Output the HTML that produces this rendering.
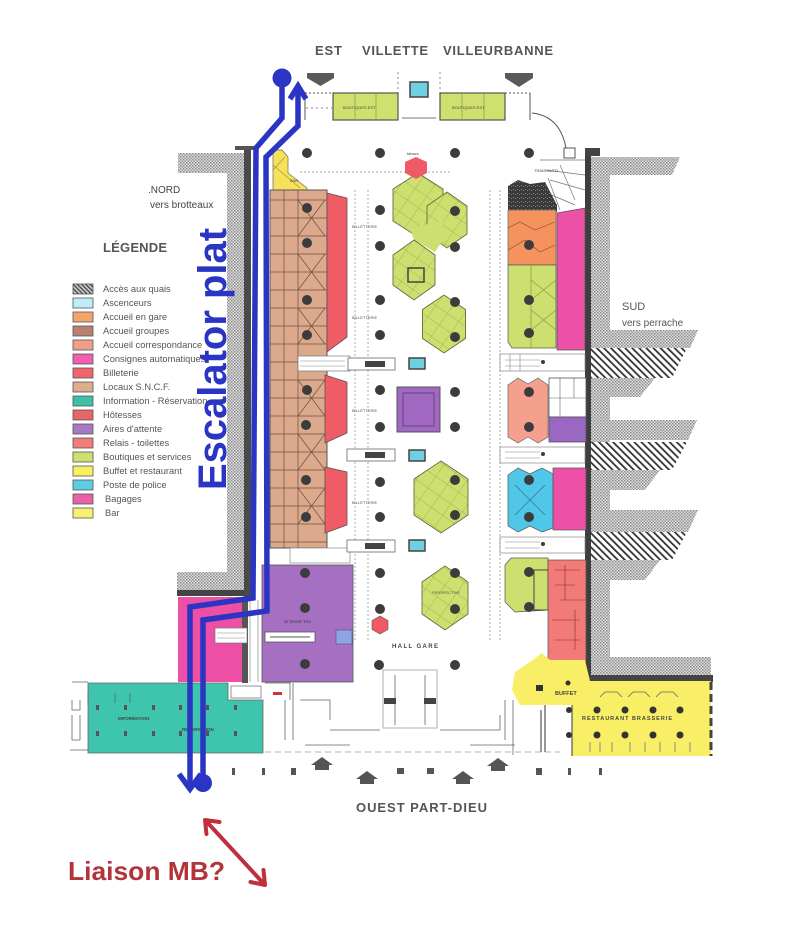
<!DOCTYPE html>
<html><head><meta charset="utf-8">
<style>
html,body{margin:0;padding:0;background:#fff;}
svg{display:block;}
text{font-family:"Liberation Sans",Arial,sans-serif;}
</style></head><body>
<svg width="805" height="948" viewBox="0 0 805 948" xmlns="http://www.w3.org/2000/svg">
<defs>
<pattern id="st" width="3" height="3" patternUnits="userSpaceOnUse"><rect width="3" height="3" fill="#dedede"/><rect width="1.5" height="1.5" fill="#8c8c8c"/><rect x="1.5" y="1.5" width="1.5" height="1.5" fill="#9c9c9c"/></pattern>
<pattern id="ha" width="5" height="5" patternUnits="userSpaceOnUse" patternTransform="rotate(-45)"><rect width="5" height="5" fill="#fff"/><rect width="1.8" height="5" fill="#333"/></pattern>
<pattern id="ha2" width="3" height="3" patternUnits="userSpaceOnUse" patternTransform="rotate(-45)"><rect width="3" height="3" fill="#ccc"/><rect width="1.3" height="3" fill="#444"/></pattern>
<pattern id="gr" width="14" height="14" patternUnits="userSpaceOnUse" patternTransform="rotate(35)"><rect width="14" height="14" fill="#cddf6e"/><path d="M0 0H14M0 0V14" stroke="#97a64a" stroke-width="0.7"/></pattern>
<pattern id="dk" width="4" height="4" patternUnits="userSpaceOnUse"><rect width="4" height="4" fill="#3a3a3a"/><rect x="1" y="1" width="1" height="1" fill="#888"/><rect x="3" y="2" width="1" height="1" fill="#777"/></pattern>
</defs>
<rect width="805" height="948" fill="#fff"/>

<!-- LEFT stipple -->
<g fill="url(#st)">
<rect x="178" y="153" width="68" height="20"/>
<rect x="227" y="173" width="19" height="400"/>
<rect x="177" y="572" width="70" height="19"/>
</g>
<rect x="177" y="590" width="71" height="6" fill="#444"/>
<rect x="244" y="146" width="7" height="451" fill="#4a4a4a"/>
<rect x="235" y="146" width="20" height="4" fill="#555"/>
<rect x="242" y="597" width="6" height="86" fill="#555"/>

<!-- RIGHT stipple / hatch -->
<g fill="url(#st)">
<rect x="591" y="157" width="19" height="518"/>
<polygon points="591,157 680,157 672,175 591,175"/>
<polygon points="591,330 698,330 690,348 591,348"/>
<polygon points="591,378 655,378 640,397 591,397"/>
<polygon points="591,420 697,420 688,440 591,440"/>
<polygon points="591,470 660,470 645,490 591,490"/>
<polygon points="591,510 698,510 688,532 591,532"/>
<polygon points="591,560 660,560 645,580 591,580"/>
<rect x="591" y="657" width="120" height="19"/>
</g>
<g fill="url(#ha)">
<polygon points="591,348 687,348 672,378 591,378"/>
<polygon points="591,442 687,442 672,470 591,470"/>
<polygon points="591,532 687,532 672,560 591,560"/>
</g>
<rect x="585" y="148" width="6" height="534" fill="#3e3e3e"/>
<rect x="585" y="148" width="15" height="8" fill="#444"/>
<rect x="585" y="675" width="128" height="7" fill="#444"/>

<!-- TOP structure -->
<g stroke="#555" stroke-width="1" fill="none">
<path d="M305,93 V120 M530,93 V120"/>
<path d="M305,93 H333 M505,93 H530" stroke-dasharray="2,2"/>
<path d="M398,72 V120 M440,72 V120 M306,108 H332" stroke-dasharray="2,3" stroke="#888"/>
<path d="M532,113 Q560,116 566,148"/>
<rect x="564" y="148" width="11" height="10"/>
<path d="M402,118 H436" stroke="#777"/>
</g>
<rect x="333" y="93" width="65" height="27" fill="#cfe06e" stroke="#555" stroke-width="1.2"/>
<rect x="440" y="93" width="65" height="27" fill="#cfe06e" stroke="#555" stroke-width="1.2"/>
<path d="M355,93V120M376,93V120M462,93V120M484,93V120" stroke="#8a9a48" stroke-width="0.7"/>
<rect x="410" y="82" width="18" height="15" fill="#6fd0e2" stroke="#444" stroke-width="1.5"/>
<text x="343" y="109" font-size="4" fill="#444">BOUTIQUES EST</text>
<text x="452" y="109" font-size="4" fill="#444">BOUTIQUES EST</text>
<!-- top arrows -->
<polygon points="307,73 334,73 334,78 320.5,86 307,78" fill="#5a5a5a"/>
<polygon points="505,73 533,73 533,78 519,87 505,78" fill="#5a5a5a"/>

<!-- right-top stairs area -->
<g stroke="#777" stroke-width="0.7" fill="none">
<path d="M540,160 L585,160 M545,170 L585,175 M550,180 L585,190 M540,190 L575,205 M548,178 L560,210 M560,165 L575,200"/>
</g>
<text x="534" y="172" font-size="4" fill="#444">TRAIS-AUTO</text>

<!-- RIGHT column -->
<polygon points="508,186 518,180 530,184 545,182 557,205 557,212 508,212" fill="url(#dk)"/>
<rect x="508" y="210" width="48" height="55" fill="#f5935e" stroke="#666" stroke-width="0.7"/>
<path d="M508,228 L520,222 L535,230 L555,222 M508,250 L525,240 L540,252 L555,245" stroke="#8a4a30" stroke-width="0.6" fill="none"/>
<polygon points="557,213 585,208 585,350 557,350" fill="#ec50a7" stroke="#555" stroke-width="0.7"/>
<polygon points="508,265 556,265 556,348 512,348 508,342" fill="#cddf6e" stroke="#555" stroke-width="0.7"/>
<path d="M531,265V348 M531,280 L556,300 M556,280 L531,300 M531,310 L556,330 M556,310 L531,330" stroke="#8a9a48" stroke-width="0.7"/>
<rect x="500" y="354" width="85" height="17" fill="#fff" stroke="#888" stroke-width="0.7"/>
<path d="M505,360H540M505,366H540M510,354V371M520,354V371" stroke="#888" stroke-width="0.6"/>
<polygon points="508,385 518,378 528,384 538,378 548,385 548,437 538,443 528,437 518,443 508,437" fill="#f4a08c" stroke="#666" stroke-width="0.7"/>
<rect x="549" y="378" width="37" height="39" fill="#fff" stroke="#555" stroke-width="0.8"/>
<path d="M560,378V417M574,378V398M549,398H586" stroke="#666" stroke-width="0.6"/>
<rect x="549" y="417" width="37" height="25" fill="#9a68c0" stroke="#555" stroke-width="0.8"/>
<rect x="500" y="447" width="85" height="16" fill="#fff" stroke="#888" stroke-width="0.7"/>
<path d="M505,452H540M505,458H540" stroke="#888" stroke-width="0.6"/>
<polygon points="508,475 518,468 530,474 542,468 553,474 553,528 542,532 530,526 518,532 508,526" fill="#50c6e8" stroke="#555" stroke-width="0.7"/>
<path d="M515,485 L545,515 M545,485 L515,515" stroke="#2a6a80" stroke-width="0.6"/>
<rect x="553" y="468" width="33" height="62" fill="#ec50a7" stroke="#555" stroke-width="0.7"/>
<rect x="500" y="537" width="85" height="16" fill="#fff" stroke="#888" stroke-width="0.7"/>
<path d="M505,542H540M505,548H540" stroke="#888" stroke-width="0.6"/>
<polygon points="505,565 511,558 548,558 548,610 515,612 505,602" fill="#cddf6e" stroke="#555" stroke-width="0.7"/>
<rect x="534" y="570" width="14" height="40" fill="none" stroke="#444" stroke-width="1"/>
<rect x="548" y="560" width="38" height="102" fill="#f27a78" stroke="#555" stroke-width="0.7"/>
<path d="M555,570H580M555,585H575M560,600H585M552,620H580M555,640H580M565,565V600M575,610V650" stroke="#7a3030" stroke-width="0.6"/>

<!-- Yellow buffet/restaurant -->
<polygon points="542,653 550,660 585,660 590,681 711,681 711,756 572,756 572,705 520,705 512,690 515,672 530,662" fill="#f8ef66"/>
<path d="M711,682V756" stroke="#444" stroke-width="3" stroke-dasharray="8,4"/>
<path d="M545,705V752 M541,710V752 M572,705V756" stroke="#555" stroke-width="1.2"/>
<g fill="#333">
<circle cx="597" cy="710" r="3.5"/><circle cx="625" cy="710" r="3.5"/><circle cx="653" cy="710" r="3.5"/><circle cx="680" cy="710" r="3.5"/>
<circle cx="597" cy="735" r="3.5"/><circle cx="625" cy="735" r="3.5"/><circle cx="653" cy="735" r="3.5"/><circle cx="680" cy="735" r="3.5"/>
<circle cx="569" cy="710" r="3"/><circle cx="569" cy="735" r="3"/><circle cx="568" cy="683" r="2.5"/>
<rect x="536" y="685" width="7" height="6"/>
</g>
<path d="M600,697 l5,-5 h12 l5,5 M628,697 l5,-5 h12 l5,5 M656,697 l5,-5 h12 l5,5" stroke="#666" stroke-width="0.8" fill="none"/>
<path d="M590,742V752M600,742V752M612,742V752M630,742V752M645,742V752M660,742V752M675,742V752M690,742V752" stroke="#777" stroke-width="0.8"/>
<text x="555" y="695" font-size="5.5" font-weight="bold" fill="#444">BUFFET</text>
<text x="582" y="720" font-size="5.5" font-weight="bold" fill="#444" textLength="90">RESTAURANT  BRASSERIE</text>

<!-- LEFT column -->
<polygon points="273,150 282,150 288,157 288,173 307,188 307,192 273,192" fill="#f6e25a" stroke="#666" stroke-width="0.7"/>
<path d="M273,165 L300,188 M285,157 L273,170" stroke="#a09030" stroke-width="0.6"/>
<text x="290" y="182" font-size="4" fill="#444">BAR</text>
<rect x="270" y="190" width="57" height="358" fill="#dca98c"/>
<g stroke="#6e5040" stroke-width="0.7" fill="none">
<path d="M270,200H327M270,218H327M270,236H327M270,254H327M270,272H327M270,290H327M270,308H327M270,326H327M270,344H327M270,362H327M270,380H327M270,398H327M270,416H327M270,434H327M270,452H327M270,470H327M270,488H327M270,506H327M270,524H327M270,542H327"/>
<path d="M284,190V548M298,190V548"/>
<path d="M298,200L325,236M325,200L298,236M298,254L325,290M325,254L298,290M298,308L325,344M325,308L298,344M298,380L325,416M325,380L298,416M298,434L325,470M325,434L298,470M298,488L325,524M325,488L298,524"/>
</g>
<rect x="270" y="190" width="57" height="358" fill="none" stroke="#555" stroke-width="1"/>
<polygon points="327,193 347,198 347,337 327,352" fill="#ef5c66" stroke="#555" stroke-width="0.8"/>
<polygon points="325,375 347,382 347,433 325,443" fill="#ef5c66" stroke="#555" stroke-width="0.8"/>
<polygon points="325,467 347,472 347,525 325,533" fill="#ef5c66" stroke="#555" stroke-width="0.8"/>
<rect x="298" y="356" width="52" height="15" fill="#fff" stroke="#777" stroke-width="0.7"/>
<path d="M300,361H345M300,366H345" stroke="#888" stroke-width="0.6"/>
<rect x="290" y="548" width="60" height="15" fill="#fff" stroke="#888" stroke-width="0.7"/>

<!-- purple attente + pink consignes + teal info -->
<rect x="262" y="565" width="91" height="117" fill="#a56fc2" stroke="#555" stroke-width="0.8"/>
<rect x="265" y="632" width="50" height="10" fill="#fff" stroke="#555" stroke-width="0.8"/>
<path d="M270,637H310" stroke="#555" stroke-width="1"/>
<rect x="336" y="630" width="16" height="14" fill="#8fa4e6" stroke="#555" stroke-width="0.6"/>
<text x="284" y="623" font-size="4" fill="#333">ATTENTE TGV</text>
<rect x="178" y="597" width="64" height="85" fill="#ec4fa4"/>
<rect x="215" y="628" width="32" height="15" fill="#fff" stroke="#777" stroke-width="0.7"/>
<path d="M217,633H245M217,638H245" stroke="#888" stroke-width="0.6"/>
<path d="M250,600V682 M258,600V682" stroke="#777" stroke-width="0.6"/>
<polygon points="88,683 228,683 228,700 263,700 263,753 88,753" fill="#3fc5ad" stroke="#666" stroke-width="0.8"/>
<rect x="231" y="686" width="30" height="12" fill="#fff" stroke="#666" stroke-width="0.7"/>
<g fill="#555">
<rect x="96" y="705" width="3" height="5"/><rect x="124" y="705" width="3" height="5"/><rect x="152" y="705" width="3" height="5"/><rect x="179" y="705" width="3" height="5"/><rect x="206" y="705" width="3" height="5"/><rect x="234" y="705" width="3" height="5"/>
<rect x="96" y="731" width="3" height="5"/><rect x="124" y="731" width="3" height="5"/><rect x="152" y="731" width="3" height="5"/><rect x="179" y="731" width="3" height="5"/><rect x="206" y="731" width="3" height="5"/><rect x="234" y="731" width="3" height="5"/>
</g>
<path d="M88,693V703M115,693V703M130,693V703" stroke="#555" stroke-width="0.6"/>
<text x="118" y="720" font-size="4.5" font-weight="bold" fill="#444">INFORMATION</text>
<text x="182" y="731" font-size="4.5" font-weight="bold" fill="#444">RESERVATION</text>
<rect x="273" y="692" width="9" height="3" fill="#d0303a"/>
<!-- left bottom misc -->
<g stroke="#666" stroke-width="0.8" fill="none">
<path d="M72,682H88 M72,700V710H80V700 M72,715V740H80V715 M70,750H88"/>
<path d="M265,683H290V700 M285,700V740 M293,683V740 M300,700H330V720 M330,730H380 M440,730H500V715 M305,745H350 M470,745H515 M505,700V740 M513,700V755"/>
<path d="M383,670H437V728H383Z" stroke="#999"/>
<path d="M395,675V725M425,675V725"/>
</g>
<rect x="384" y="698" width="12" height="6" fill="#444"/>
<rect x="424" y="698" width="12" height="6" fill="#444"/>
<path d="M265,752H560" stroke="#999" stroke-width="0.8" stroke-dasharray="6,4"/>

<!-- bottom arrows -->
<g fill="#555">
<polygon points="322,757 333,765 329,765 329,770 315,770 315,765 311,765"/>
<polygon points="367,771 378,779 374,779 374,784 360,784 360,779 356,779"/>
<polygon points="463,771 474,779 470,779 470,784 456,784 456,779 452,779"/>
<polygon points="498,758 509,766 505,766 505,771 491,771 491,766 487,766"/>
<rect x="232" y="768" width="3" height="7"/><rect x="262" y="768" width="3" height="7"/><rect x="291" y="768" width="5" height="7"/>
<rect x="397" y="768" width="7" height="6"/><rect x="427" y="768" width="7" height="6"/>
<rect x="536" y="768" width="6" height="7"/><rect x="568" y="768" width="3" height="7"/><rect x="599" y="768" width="3" height="7"/>
</g>

<!-- CENTER -->
<g stroke="#888" stroke-width="0.7" fill="none" stroke-dasharray="2,2">
<path d="M355,190V640 M368,190V640 M490,190V640 M500,190V640"/>
<path d="M300,172H450"/>
</g>
<g stroke="#6a6a40" stroke-width="0.9">
<polygon points="418,173 443,189 443,221 418,237 393,221 393,189" fill="url(#gr)"/>
<polygon points="447,192 467,206 467,234 447,248 427,234 427,206" fill="url(#gr)"/>
<polygon points="410,228 443,221 443,240 435,252 414,240" fill="#cddf6e" stroke="none"/>
<polygon points="414,240 435,255 435,285 414,300 393,285 393,255" fill="url(#gr)"/>
<polygon points="444,295 465.5,309.5 465.5,338.5 444,353 422.5,338.5 422.5,309.5" fill="url(#gr)"/>
<polygon points="441,461 468,479 468,515 441,533 414,515 414,479" fill="url(#gr)"/>
<polygon points="445,566 468,582 468,614 445,630 422,614 422,582" fill="url(#gr)"/>
</g>
<rect x="408" y="268" width="16" height="14" fill="none" stroke="#444" stroke-width="1.5"/>
<polygon points="416,157 427,162 427,173 416,179 405,173 405,162" fill="#ef5a66"/>
<text x="407" y="155" font-size="4" fill="#444">tabacs</text>
<rect x="397" y="387" width="43" height="45" fill="#a068c0" stroke="#555" stroke-width="1"/>
<rect x="403" y="393" width="31" height="33" fill="none" stroke="#5a3a70" stroke-width="0.8"/>
<polygon points="380,616 388,620.5 388,629.5 380,634 372,629.5 372,620.5" fill="#ef5a66" stroke="#555" stroke-width="0.6"/>
<g fill="#fff" stroke="#666" stroke-width="0.8">
<rect x="348" y="358" width="47" height="12"/><rect x="347" y="449" width="48" height="12"/><rect x="347" y="540" width="48" height="12"/>
</g>
<g fill="#444"><rect x="365" y="361" width="20" height="6"/><rect x="365" y="452" width="20" height="6"/><rect x="365" y="543" width="20" height="6"/></g>
<g fill="#6fd0e2" stroke="#444" stroke-width="1.5">
<rect x="409" y="358" width="16" height="11"/><rect x="409" y="450" width="16" height="11"/><rect x="409" y="540" width="16" height="11"/>
</g>
<g font-size="4" fill="#555">
<text x="352" y="228">BILLETTERIE</text><text x="352" y="319">BILLETTERIE</text><text x="352" y="412">BILLETTERIE</text><text x="352" y="504">BILLETTERIE</text>
<text x="432" y="594">PERSPECTIVE</text>
</g>
<text x="392" y="648" font-size="6" font-weight="bold" fill="#444" textLength="46">HALL GARE</text>

<!-- pillars -->
<g fill="#3c3c3c">
<circle cx="307" cy="153" r="5"/><circle cx="307" cy="208" r="5"/><circle cx="307" cy="243" r="5"/><circle cx="307" cy="300" r="5"/><circle cx="307" cy="335" r="5"/><circle cx="307" cy="390" r="5"/><circle cx="306" cy="425" r="5"/><circle cx="306" cy="480" r="5"/><circle cx="306" cy="517" r="5"/><circle cx="305" cy="573" r="5"/><circle cx="305" cy="608" r="5"/><circle cx="305" cy="664" r="5"/>
<circle cx="380" cy="153" r="5"/><circle cx="380" cy="210" r="5"/><circle cx="380" cy="246" r="5"/><circle cx="380" cy="300" r="5"/><circle cx="380" cy="335" r="5"/><circle cx="380" cy="390" r="5"/><circle cx="380" cy="427" r="5"/><circle cx="380" cy="482" r="5"/><circle cx="380" cy="517" r="5"/><circle cx="380" cy="573" r="5"/><circle cx="380" cy="609" r="5"/><circle cx="379" cy="665" r="5"/>
<circle cx="455" cy="153" r="5"/><circle cx="455" cy="211" r="5"/><circle cx="455" cy="247" r="5"/><circle cx="455" cy="302" r="5"/><circle cx="455" cy="337" r="5"/><circle cx="455" cy="392" r="5"/><circle cx="455" cy="427" r="5"/><circle cx="455" cy="480" r="5"/><circle cx="455" cy="515" r="5"/><circle cx="455" cy="573" r="5"/><circle cx="455" cy="609" r="5"/><circle cx="455" cy="665" r="5"/>
<circle cx="529" cy="153" r="5"/><circle cx="529" cy="245" r="5"/><circle cx="529" cy="300" r="5"/><circle cx="529" cy="333" r="5"/><circle cx="529" cy="392" r="5"/><circle cx="529" cy="427" r="5"/><circle cx="529" cy="480" r="5"/><circle cx="529" cy="517" r="5"/><circle cx="529" cy="572" r="5"/><circle cx="529" cy="607" r="5"/>
<circle cx="543" cy="362" r="2"/><circle cx="543" cy="454" r="2"/><circle cx="543" cy="544" r="2"/>
</g>

<!-- Titles -->
<g font-weight="bold" fill="#555" font-size="13">
<text x="315" y="55" textLength="27">EST</text>
<text x="362" y="55" textLength="66">VILLETTE</text>
<text x="443" y="55" textLength="110">VILLEURBANNE</text>
<text x="356" y="812" textLength="131">OUEST PART-DIEU</text>
</g>
<text x="148" y="193" font-size="10" fill="#444">.NORD</text>
<text x="150" y="208" font-size="10" fill="#444">vers brotteaux</text>
<text x="622" y="310" font-size="11" fill="#555">SUD</text>
<text x="622" y="326" font-size="10" fill="#555">vers perrache</text>

<!-- Legend -->
<text x="103" y="252" font-size="13" font-weight="bold" fill="#555" textLength="64">LÉGENDE</text>
<g stroke="#555" stroke-width="0.8">
<rect x="73" y="284" width="20" height="10" fill="url(#ha2)"/>
<rect x="73" y="298" width="20" height="10" fill="#bdeef5"/>
<rect x="73" y="312" width="20" height="10" fill="#f6a56a"/>
<rect x="73" y="326" width="20" height="10" fill="#b9806e"/>
<rect x="73" y="340" width="20" height="10" fill="#f0a088"/>
<rect x="73" y="354" width="20" height="10" fill="#f15fae"/>
<rect x="73" y="368" width="20" height="10" fill="#f0666e"/>
<rect x="73" y="382" width="20" height="10" fill="#dcae8c"/>
<rect x="73" y="396" width="20" height="10" fill="#3fc0a6"/>
<rect x="73" y="410" width="20" height="10" fill="#e8656a"/>
<rect x="73" y="424" width="20" height="10" fill="#a878c8"/>
<rect x="73" y="438" width="20" height="10" fill="#f07c7c"/>
<rect x="73" y="452" width="20" height="10" fill="#cfe06e"/>
<rect x="73" y="466" width="20" height="10" fill="#f8f060"/>
<rect x="73" y="480" width="20" height="10" fill="#5ccde2"/>
<rect x="73" y="494" width="20" height="10" fill="#e860a8"/>
<rect x="73" y="508" width="20" height="10" fill="#f8f070"/>
</g>
<g font-size="9.3" fill="#555">
<text x="103" y="292">Accès aux quais</text>
<text x="103" y="306">Ascenceurs</text>
<text x="103" y="320">Accueil en gare</text>
<text x="103" y="334">Accueil groupes</text>
<text x="103" y="348">Accueil correspondance</text>
<text x="103" y="362">Consignes automatiques</text>
<text x="103" y="376">Billeterie</text>
<text x="103" y="390">Locaux S.N.C.F.</text>
<text x="103" y="404">Information - Réservation</text>
<text x="103" y="418">Hôtesses</text>
<text x="103" y="432">Aires d'attente</text>
<text x="103" y="446">Relais - toilettes</text>
<text x="103" y="460">Boutiques et services</text>
<text x="103" y="474">Buffet et restaurant</text>
<text x="103" y="488">Poste de police</text>
<text x="105" y="502">Bagages</text>
<text x="105" y="516">Bar</text>
</g>

<!-- Blue escalator path -->
<text transform="translate(226,490) rotate(-90)" font-size="40" font-weight="bold" fill="#2b35c3" textLength="262" lengthAdjust="spacingAndGlyphs">Escalator plat</text>
<g stroke="#2b35c3" stroke-width="5.5" fill="none" stroke-linejoin="miter">
<path d="M282,78 L282,118 L256,148 L253,598 L190,607 L190,786"/>
<path d="M298,88 L298,126 L266,157 L267,611 L203,620 L203,783"/>
<polyline points="290,99 298,86 306,99"/>
<polyline points="179,774 190,789 201,774"/>
</g>
<circle cx="282" cy="78" r="9.5" fill="#2b35c3"/>
<circle cx="203" cy="783" r="9" fill="#2b35c3"/>

<!-- Red liaison -->
<g stroke="#c0303c" stroke-width="4" fill="none" stroke-linecap="round" stroke-linejoin="round">
<path d="M206,821 L264,884"/>
<polyline points="206.5,834 205,820 219.5,822"/>
<polyline points="250.5,882 265,885 263.5,870"/>
</g>
<text x="68" y="880" font-size="26" font-weight="bold" fill="#b2343a" textLength="157" lengthAdjust="spacingAndGlyphs">Liaison MB?</text>
</svg>
</body></html>
